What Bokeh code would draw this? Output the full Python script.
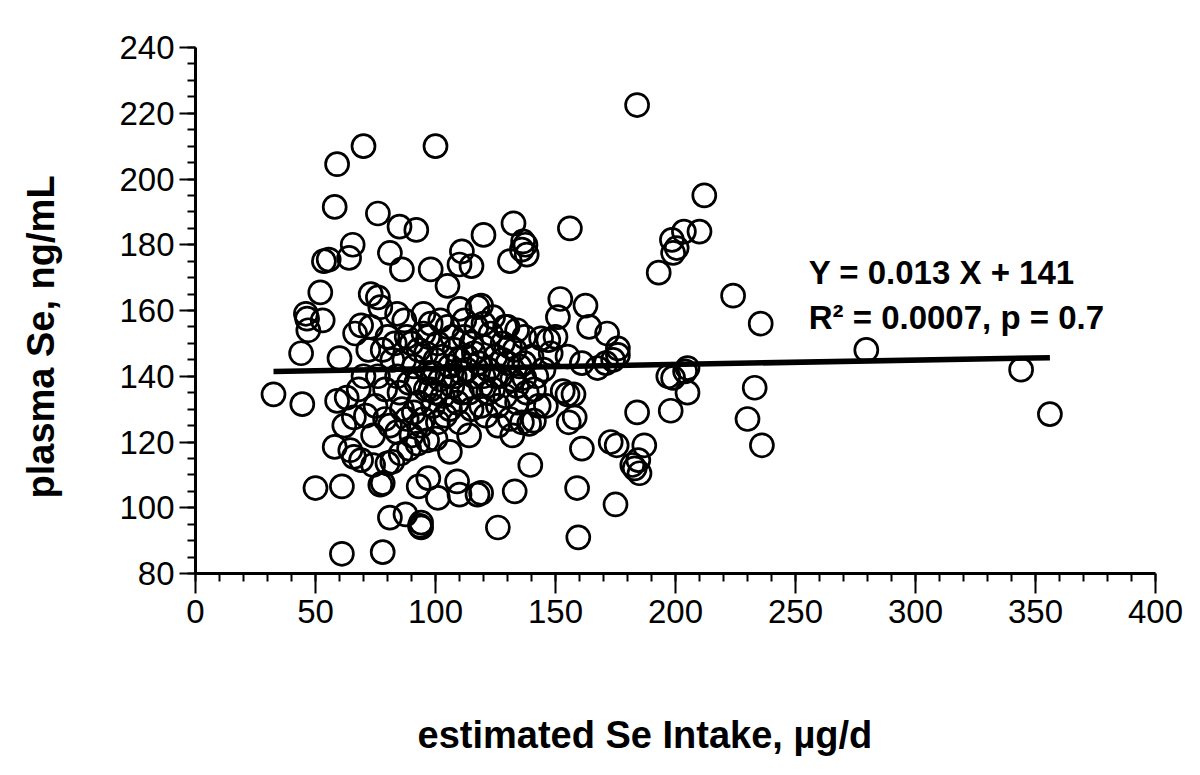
from bokeh.plotting import figure
from bokeh.models import FixedTicker, Label, Title, LinearAxis
from bokeh.embed import file_html
from bokeh.resources import INLINE

# estimated Se intake (ug/d) and plasma Se (ng/mL)
intake = [
    32.5, 44.5, 44, 46, 46.5, 47, 53, 52, 53.5, 55.5, 58, 59, 61, 50, 61, 58, 59, 60, 63, 62,
    64, 65.5, 70, 64.5, 66, 69, 66, 66.5, 69, 73, 73, 76, 77, 76, 81, 78, 78, 77, 74, 80,
    82, 81, 85.5, 87.5, 89, 92.5, 93, 94, 94, 93.5, 97, 96.5, 100, 101, 106, 109, 110, 114, 117.5, 119,
    85, 92, 86, 98, 100, 105, 110, 111, 115, 120, 132.5, 131, 136, 136.5, 137.5, 138, 156, 120, 119, 110,
    117.5, 84, 87, 95, 98,
    184, 212, 198.5, 200.5, 199, 203.5, 193, 210, 224, 235.5, 233, 230, 236, 279.5, 344, 356, 205, 204, 197, 199,
    198, 205, 184, 187, 184.5, 183, 185, 182, 173, 175.5, 175, 171, 174, 176, 176, 171.5, 162.5, 152, 151, 164,
    155, 161, 167.5, 159, 159.5, 161, 139.5, 133, 126, 153, 155, 157.5, 155.5, 158, 141, 139, 144, 147, 137, 130,
    134, 137,
    78, 80, 82, 84, 85, 86, 88, 90, 91, 92, 93, 94, 95, 96, 97, 98, 99, 100, 101, 102,
    103, 104, 105, 106, 107, 108, 109, 110, 111, 112, 113, 114, 115, 116, 117, 118, 119, 120, 121, 122,
    123, 124, 125, 126, 127, 128, 129, 130, 131, 132, 133, 134, 135, 136, 138, 140, 142, 143, 76, 75,
    79, 81, 83, 87, 89, 91, 96, 99, 101, 103, 106, 108, 111, 113, 116, 119, 122, 125, 128, 131,
    134, 137, 88, 93, 97, 102, 107, 112, 124, 129, 70, 72, 68, 71, 74, 79, 84, 90, 95, 100,
    105, 110, 115, 120, 126, 132, 141, 145, 148, 150, 146,
]
plasma = [
    134.5, 131.5, 147, 159, 157.5, 154, 157, 165.5, 175, 175.5, 191.5, 204.5, 86, 106, 106.5, 118.5, 132.5, 145.5, 133.5, 125,
    176, 180, 210, 117.5, 115.5, 114.5, 127.5, 153, 155.5, 155, 165, 164, 161, 189.5, 177.5, 86.5, 107.5, 107, 113, 113.5,
    114, 97, 116.5, 98, 118, 119.5, 106.5, 95.5, 94, 94.5, 109, 120.5, 121, 103, 117, 108, 104, 122, 104, 104.5,
    185.5, 184.5, 172.5, 172.5, 210, 167.5, 174, 178, 173.5, 183, 186.5, 175, 178.5, 181, 180, 177, 185, 156, 161.5, 160.5,
    161, 159, 157, 159, 156,
    222.5, 195, 181.5, 179, 177.5, 184, 171.5, 184, 164.5, 156, 136.5, 127, 119, 148, 142, 128.5, 142.5, 141.5, 140, 139.5,
    129.5, 135, 129, 119, 114.5, 112, 110.5, 113, 120, 119, 101, 144, 145, 146.5, 148.5, 153, 161.5, 163.5, 158, 155,
    146, 144, 142.5, 106, 91, 118, 113, 105, 94, 135.5, 134.5, 134.5, 126, 127.5, 126.5, 125.5, 151.5, 151, 139.5, 155,
    154, 152,
    148, 152, 145, 140, 135, 130, 127, 150, 143, 138, 132, 125, 153, 147, 141, 136, 131, 145, 150, 139,
    134, 128, 155, 143, 137, 148, 132, 126, 141, 152, 146, 135, 130, 140, 155, 144, 137, 149, 128, 142,
    153, 136, 146, 131, 140, 150, 134, 144, 127, 139, 148, 132, 143, 126, 135, 146, 140, 131, 140, 131,
    136, 125, 150, 145, 138, 129, 136, 141, 126, 146, 130, 140, 135, 142, 147, 131, 135, 140, 145, 149,
    137, 144, 152, 148, 152, 157, 152, 157, 158, 155, 140, 148, 136, 128, 122, 127, 123, 122, 127, 135,
    140, 145, 150, 140, 125, 122, 136, 142, 147, 152, 131,
]

slope = 0.013
intercept = 141.0
eq_text = "Y = 0.013 X + 141"
stat_text = "R\u00b2 = 0.0007, p = 0.7"
x_title = "estimated Se Intake, \u00b5g/d"
y_title = "plasma Se, ng/mL"

x_ticks = [0, 50, 100, 150, 200, 250, 300, 350, 400]
y_ticks = [80, 100, 120, 140, 160, 180, 200, 220, 240]

FONT = "Liberation Sans"

p = figure(width=1184, height=767, output_backend="svg", toolbar_location=None,
           x_range=(0, 400), y_range=(80, 240),
           min_border_left=195, min_border_right=29, min_border_top=47, min_border_bottom=194)
p.outline_line_color = None
p.xgrid.visible = False
p.ygrid.visible = False
p.background_fill_color = "white"
p.border_fill_color = "white"

p.scatter(intake, plasma, marker="circle", size=23, fill_color=None,
          line_color="black", line_width=2.7)

lx = [min(intake), max(intake)]
ly = [slope * v + intercept for v in lx]
p.line(lx, ly, line_color="black", line_width=5.5)

p.add_layout(Label(x=255.5, y=171.6, text=eq_text, text_font=FONT, text_font_size="33px",
                   text_font_style="bold", text_baseline="middle", text_color="black"))
p.add_layout(Label(x=255.5, y=157.9, text=stat_text, text_font=FONT, text_font_size="33px",
                   text_font_style="bold", text_baseline="middle", text_color="black"))


def spacer(size, at):
    # axis with a single white (invisible) tick, used only to push the title away from the frame
    a = LinearAxis(ticker=FixedTicker(ticks=[at], minor_ticks=[]))
    a.axis_line_color = None
    a.major_tick_line_color = "white"
    a.minor_tick_line_color = None
    a.major_tick_out = size
    a.minor_tick_out = 0
    a.major_tick_in = 0
    a.major_label_standoff = 0
    a.major_label_text_font_size = "1px"
    a.major_label_overrides = {at: ""}
    return a


p.add_layout(spacer(86, 0), "below")
p.add_layout(spacer(55, 80), "left")

xt = Title(text=x_title, align="left", offset=222, standoff=0,
           text_font=FONT, text_font_size="38px", text_font_style="bold", text_color="black")
p.add_layout(xt, "below")
yt = Title(text=y_title, align="left", offset=75, standoff=0,
           text_font=FONT, text_font_size="38px", text_font_style="bold", text_color="black")
p.add_layout(yt, "left")

xa = p.xaxis[0]
xa.ticker = FixedTicker(ticks=x_ticks, minor_ticks=list(range(0, 401, 10)))
xa.axis_line_width = 3
xa.major_tick_line_width = 2
xa.minor_tick_line_width = 2
xa.major_tick_out = 20
xa.major_tick_in = 0
xa.minor_tick_out = 8
xa.minor_tick_in = 0
xa.major_label_text_font = FONT
xa.major_label_text_font_size = "33px"
xa.major_label_text_color = "black"
xa.major_label_standoff = 6

ya = p.yaxis[0]
ya.ticker = FixedTicker(ticks=y_ticks, minor_ticks=list(range(80, 241, 5)))
ya.axis_line_width = 3
ya.major_tick_line_width = 2
ya.minor_tick_line_width = 2
ya.major_tick_out = 16
ya.major_tick_in = 0
ya.minor_tick_out = 8
ya.minor_tick_in = 0
ya.major_label_text_font = FONT
ya.major_label_text_font_size = "33px"
ya.major_label_text_color = "black"
ya.major_label_standoff = 5

open("out.html", "w").write(file_html(p, INLINE))
